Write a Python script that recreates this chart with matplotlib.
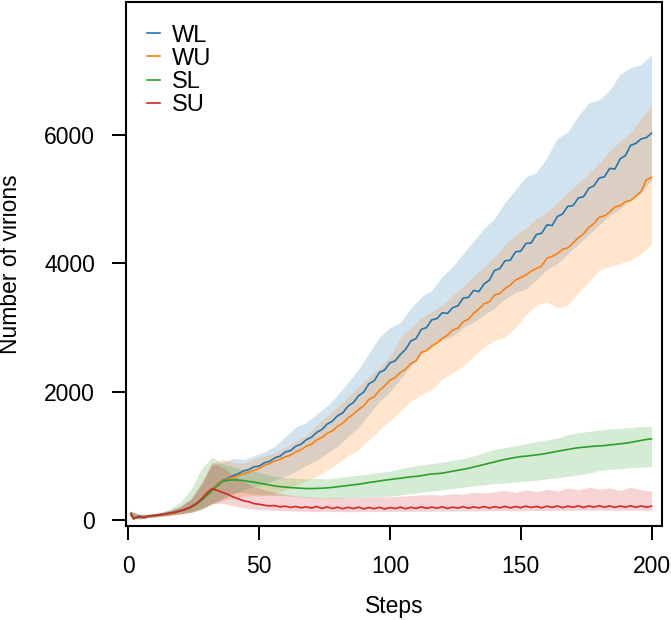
import matplotlib
matplotlib.use("Agg")
import matplotlib.pyplot as plt
import numpy as np

plt.rcParams['font.family'] = ['Liberation Sans', 'DejaVu Sans']

# steps for the mean lines and for the bands
steps = np.r_[1, np.arange(2, 201, 2)]
band_steps = np.r_[1, np.arange(4, 201, 4)]

wl_mean = [100, 30, 60, 40, 65, 70, 85, 95, 110, 128, 145, 172, 205, 258, 322, 400, 472, 555, 612, 648,
           692, 720, 765, 785, 828, 840, 890, 915, 968, 995, 1060, 1080, 1150, 1180, 1250, 1290, 1365, 1410, 1495, 1540,
           1625, 1670, 1775, 1830, 1935, 1995, 2125, 2170, 2300, 2340, 2450, 2480, 2580, 2660, 2790, 2830, 2970, 3000, 3120, 3140,
           3230, 3220, 3310, 3340, 3460, 3470, 3580, 3560, 3680, 3740, 3890, 3920, 4040, 4050, 4180, 4190, 4310, 4320, 4450, 4470,
           4600, 4590, 4730, 4770, 4890, 4900, 5020, 5040, 5170, 5210, 5330, 5350, 5480, 5470, 5630, 5680, 5840, 5870, 5940, 5960,
           6030]
wu_mean = [90, 25, 50, 45, 60, 70, 80, 92, 105, 120, 140, 165, 200, 250, 315, 395, 465, 550, 605, 635,
           668, 690, 722, 745, 775, 800, 850, 880, 920, 945, 985, 1010, 1060, 1095, 1150, 1180, 1250, 1285, 1350, 1390,
           1460, 1510, 1590, 1650, 1720, 1780, 1880, 1920, 2020, 2090, 2180, 2220, 2300, 2350, 2440, 2480, 2610, 2640, 2710, 2760,
           2830, 2880, 2960, 2990, 3090, 3130, 3220, 3290, 3370, 3400, 3510, 3530, 3610, 3660, 3740, 3780, 3820, 3880, 3920, 3960,
           4080, 4110, 4150, 4220, 4240, 4320, 4400, 4460, 4560, 4620, 4720, 4740, 4800, 4880, 4900, 4960, 4980, 5050, 5120, 5300,
           5340]
sl_mean = [80, 20, 45, 50, 58, 70, 78, 90, 103, 118, 138, 162, 195, 245, 305, 380, 455, 530, 600, 620,
           625, 622, 615, 600, 590, 575, 560, 545, 530, 520, 512, 505, 500, 495, 490, 490, 492, 495, 500, 508,
           518, 528, 538, 548, 558, 570, 585, 595, 608, 620, 630, 642, 650, 662, 672, 680, 690, 705, 718, 722,
           730, 745, 760, 775, 790, 805, 825, 845, 865, 885, 905, 925, 945, 960, 975, 988, 995, 1005, 1015, 1025,
           1040, 1055, 1070, 1085, 1100, 1115, 1125, 1135, 1142, 1150, 1155, 1160, 1170, 1178, 1188, 1196, 1210, 1225, 1240, 1255,
           1265]
su_mean = [105, 15, 55, 35, 62, 68, 82, 90, 108, 120, 145, 168, 205, 255, 330, 420, 490, 460, 430, 400,
           360, 330, 300, 285, 255, 245, 230, 220, 225, 205, 215, 195, 210, 190, 205, 185, 210, 180, 205, 178,
           200, 175, 198, 178, 200, 172, 195, 175, 198, 170, 195, 178, 200, 175, 198, 180, 205, 182, 200, 185,
           205, 180, 200, 185, 208, 182, 205, 188, 210, 185, 208, 190, 212, 188, 210, 192, 215, 195, 212, 190,
           215, 195, 218, 192, 215, 198, 220, 195, 218, 200, 222, 198, 220, 195, 218, 200, 222, 198, 218, 200,
           215]

wl_lo = [60, 20, 40, 55, 75, 95, 120, 170, 250, 320, 400, 470, 520, 560, 620, 680, 760, 850, 930, 1040,
         1150, 1300, 1450, 1650, 1850, 2000, 2200, 2400, 2600, 2720, 2800, 2870, 3000, 3080, 3200, 3300, 3450, 3550, 3600, 3750,
         3900, 4000, 4150, 4300, 4450, 4600, 4750, 4850, 5000, 5100, 5300]
wl_hi = [140, 90, 90, 110, 150, 210, 330, 560, 850, 900, 960, 940, 1000, 1060, 1150, 1300, 1450, 1520, 1650, 1780,
         1950, 2150, 2350, 2600, 2850, 3000, 3080, 3300, 3480, 3580, 3800, 3950, 4150, 4350, 4550, 4700, 4950, 5150, 5350, 5420,
         5650, 5950, 6050, 6300, 6500, 6550, 6700, 6950, 7050, 7100, 7250]
wu_lo = [60, 20, 40, 55, 75, 95, 120, 170, 240, 300, 340, 370, 380, 380, 420, 470, 540, 610, 680, 780,
         880, 1000, 1100, 1250, 1400, 1550, 1700, 1850, 1950, 2030, 2200, 2300, 2400, 2550, 2700, 2800, 2850, 3000, 3200, 3350,
         3400, 3300, 3350, 3550, 3700, 3900, 3950, 4000, 4050, 4150, 4300]
wu_hi = [130, 90, 85, 110, 150, 220, 340, 600, 880, 950, 900, 880, 950, 1000, 1050, 1130, 1230, 1320, 1480, 1620,
         1760, 1920, 2080, 2230, 2380, 2550, 2850, 3000, 3150, 3250, 3350, 3500, 3640, 3800, 3950, 4100, 4300, 4450, 4550, 4700,
         4800, 4950, 5100, 5250, 5400, 5560, 5750, 5900, 6050, 6250, 6470]
sl_lo = [50, 20, 40, 55, 75, 100, 130, 180, 260, 340, 420, 430, 400, 390, 380, 380, 370, 350, 340, 340,
         338, 345, 350, 360, 365, 370, 390, 410, 430, 450, 468, 490, 510, 530, 550, 565, 575, 590, 605, 620,
         640, 660, 680, 700, 730, 770, 790, 800, 815, 825, 831]
sl_hi = [120, 90, 90, 115, 170, 280, 480, 800, 980, 880, 830, 780, 760, 720, 680, 660, 650, 640, 650, 640,
         660, 680, 700, 720, 740, 760, 800, 830, 860, 880, 900, 930, 960, 1000, 1050, 1100, 1130, 1160, 1190, 1220,
         1250, 1280, 1330, 1360, 1380, 1400, 1420, 1430, 1440, 1460, 1455]
su_lo = [60, 10, 40, 55, 70, 95, 120, 170, 260, 260, 220, 190, 170, 160, 150, 145, 140, 135, 130, 130,
         130, 128, 130, 130, 132, 135, 135, 135, 138, 138, 140, 140, 140, 142, 142, 145, 145, 145, 148, 148,
         150, 150, 150, 150, 152, 152, 152, 152, 152, 152, 152]
su_hi = [140, 80, 90, 110, 150, 210, 320, 560, 900, 820, 700, 600, 520, 470, 430, 400, 380, 360, 350, 345,
         350, 345, 350, 355, 360, 360, 370, 380, 390, 395, 390, 410, 400, 430, 420, 440, 460, 430, 470, 440,
         480, 450, 500, 470, 510, 480, 500, 460, 510, 470, 450]

labels = ["WL", "WU", "SL", "SU"]
colors = ["#1f77b4", "#ff7f0e", "#2ca02c", "#d62728"]
means = [wl_mean, wu_mean, sl_mean, su_mean]
los = [wl_lo, wu_lo, sl_lo, su_lo]
his = [wl_hi, wu_hi, sl_hi, su_hi]

fig = plt.figure(figsize=(6.71, 6.2), dpi=100)
ax = fig.add_axes([0.1873, 0.1516, 0.7993, 0.8452])

for m, lo, hi, c, lab in zip(means, los, his, colors, labels):
    ax.fill_between(band_steps, lo, hi, color=c, alpha=0.2, linewidth=0)
    ax.plot(steps, m, color=c, lw=1.2, label=lab)

ax.set_xlim(-1, 204)
ax.set_ylim(-94, 8075)
ax.set_xticks([0, 50, 100, 150, 200])
ax.set_yticks([0, 2000, 4000, 6000])
ax.tick_params(direction='out', length=10, width=1.4, labelsize=16.5)
ax.tick_params(axis='x', pad=11)
ax.tick_params(axis='y', pad=12)
for s in ax.spines.values():
    s.set_linewidth(1.5)

ax.set_xlabel("Steps", fontsize=16.5, labelpad=12)
ax.set_ylabel("Number of virions", fontsize=16.5, labelpad=16)

ax.legend(loc='upper left', frameon=False, fontsize=17, handlelength=0.55,
          handletextpad=0.5, labelspacing=0.05, borderaxespad=0,
          bbox_to_anchor=(0.022, 0.975))

fig.savefig("out.png", dpi=100)
